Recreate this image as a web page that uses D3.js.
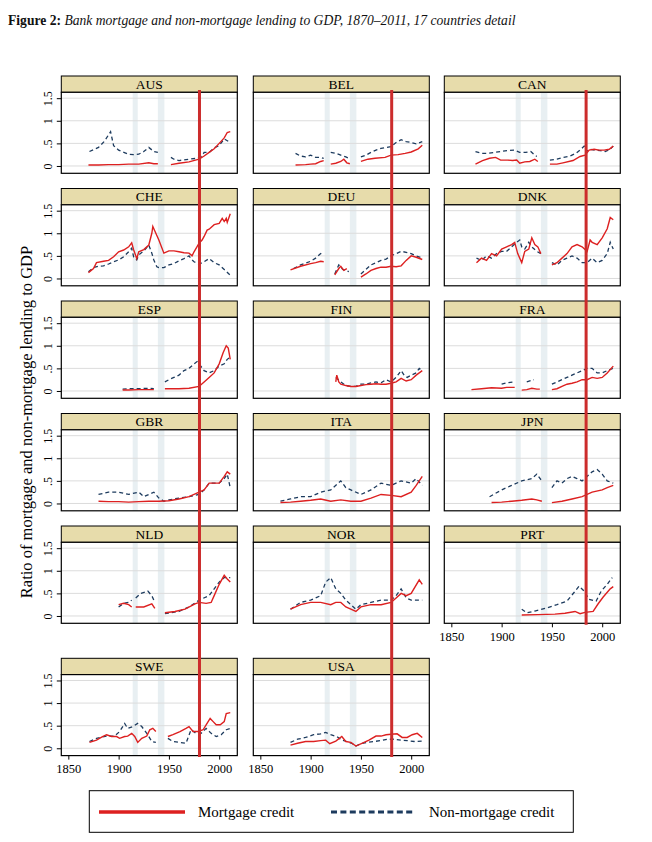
<!DOCTYPE html>
<html>
<head>
<meta charset="utf-8">
<script src="https://cdn.jsdelivr.net/npm/d3@7/dist/d3.min.js"></script>
<style>
body { margin: 0; background: #fff; }
text { font-family: "Liberation Serif", "DejaVu Serif", serif; font-weight: normal; }
</style>
</head>
<body>
<script>
// countries in panel order
const countries = ["AUS","BEL","CAN","CHE","DEU","DNK","ESP","FIN","FRA","GBR","ITA","JPN","NLD","NOR","PRT","SWE","USA"];
const yTicks = [0, 0.5, 1, 1.5];
const yTickLabels = ["0", ".5", "1", "1.5"];
const xTicks = [1850, 1900, 1950, 2000];
const warBands = [[1914, 1919], [1939, 1945.5]];
const cutoffYears = [1980.4, 1980.6, 1984]; // red vertical marker per column
const seriesNames = ["Mortgage credit", "Non-mortgage credit"];

// [year, ratio], null = gap
const mort = {
  AUS: [[1870,.02],[1880,.02],[1890,.03],[1900,.03],[1910,.04],[1920,.04],[1930,.07],[1935,.05],[1939,.05],[1940,null],
        [1952,.03],[1960,.06],[1970,.09],[1980,.15],[1985,.22],[1990,.3],[1995,.38],[2000,.5],[2005,.62],[2008,.74],[2011,.76]],
  BEL: [[1885,.02],[1895,.03],[1900,.04],[1905,.05],[1910,.1],[1913,.12],[1914,null],
        [1920,.04],[1925,.06],[1930,.1],[1933,.15],[1936,.07],[1939,.05],[1940,null],
        [1950,.1],[1957,.15],[1964,.17],[1974,.19],[1980,.24],[1987,.25],[1994,.28],[2000,.31],[2007,.38],[2011,.46]],
  CAN: [[1874,.04],[1881,.12],[1888,.17],[1894,.19],[1899,.13],[1906,.13],[1911,.12],[1915,.13],[1918,.06],[1923,.09],[1928,.1],[1933,.15],[1936,.1],[1937,null],
        [1948,.04],[1955,.04],[1961,.07],[1971,.12],[1978,.21],[1983,.24],[1987,.35],[1992,.37],[1997,.35],[2002,.35],[2007,.37],[2011,.44]],
  CHE: [[1870,.13],[1875,.22],[1878,.35],[1885,.38],[1890,.4],[1895,.48],[1900,.59],[1905,.63],[1910,.7],[1913,.79],[1915,.63],[1918,.44],[1920,.59],[1925,.64],[1930,.74],
        [1933,1.0],[1934,1.15],[1937,1.0],[1940,.85],[1945,.56],[1950,.61],[1955,.61],[1960,.59],[1965,.57],[1970,.56],[1973,.5],[1975,.59],[1980,.78],[1983,.85],
        [1985,.93],[1988,1.07],[1990,1.09],[1995,1.19],[2000,1.22],[2003,1.33],[2005,1.26],[2007,1.33],[2008,1.24],[2011,1.43]],
  DEU: [[1880,.19],[1890,.27],[1900,.33],[1905,.35],[1910,.38],[1913,.37],[1914,null],
        [1924,.08],[1928,.22],[1930,.27],[1933,.18],[1936,.22],[1937,null],
        [1950,.03],[1955,.1],[1960,.18],[1965,.22],[1970,.25],[1975,.25],[1980,.27],[1985,.26],[1990,.28],[1995,.4],[2000,.5],[2005,.47],[2011,.42]],
  DNK: [[1875,.35],[1880,.45],[1885,.4],[1890,.55],[1895,.5],[1900,.65],[1905,.7],[1910,.75],[1913,.8],[1916,.55],[1920,.35],[1923,.6],[1927,.65],[1930,.9],[1933,.75],[1936,.7],[1939,.55],[1940,null],
        [1950,.3],[1955,.35],[1960,.45],[1965,.55],[1970,.7],[1975,.75],[1980,.7],[1985,.6],[1988,.85],[1990,.8],[1995,.75],[2000,.9],[2005,1.1],[2008,1.35],[2011,1.3]],
  ESP: [[1904,.02],[1910,.02],[1920,.03],[1930,.03],[1935,.03],[1936,null],
        [1946,.05],[1960,.05],[1970,.06],[1980,.1],[1985,.2],[1990,.3],[1995,.4],[2000,.6],[2004,.85],[2007,1.0],[2009,.95],[2011,.7]],
  FIN: [[1925,.2],[1926,.35],[1928,.2],[1930,.15],[1935,.12],[1940,.1],[1945,.1],[1950,.12],[1955,.14],[1960,.15],[1965,.16],[1970,.15],[1975,.15],[1980,.17],[1985,.2],[1990,.28],[1995,.22],[2000,.25],[2005,.35],[2011,.45]],
  FRA: [[1870,.03],[1880,.05],[1890,.07],[1900,.06],[1905,.08],[1913,.08],[1914,null],
        [1920,.02],[1925,.03],[1930,.06],[1935,.04],[1938,.04],[1939,null],
        [1950,.03],[1955,.05],[1960,.1],[1965,.15],[1970,.17],[1975,.2],[1980,.25],[1985,.25],[1990,.3],[1995,.28],[2000,.3],[2005,.4],[2011,.55]],
  GBR: [[1880,.05],[1890,.04],[1900,.04],[1910,.03],[1920,.04],[1930,.05],[1940,.05],[1950,.06],[1960,.1],[1970,.15],[1980,.25],[1985,.3],[1990,.45],[1995,.45],[2000,.45],[2005,.6],[2008,.7],[2011,.65]],
  ITA: [[1870,.02],[1880,.03],[1890,.05],[1900,.07],[1910,.1],[1920,.05],[1930,.08],[1940,.05],[1950,.05],[1960,.12],[1970,.2],[1980,.18],[1990,.15],[2000,.25],[2005,.4],[2011,.6]],
  JPN: [[1890,.02],[1900,.03],[1910,.05],[1920,.07],[1930,.1],[1935,.08],[1940,.05],[1941,null],
        [1950,.02],[1960,.05],[1970,.1],[1980,.15],[1990,.25],[2000,.3],[2005,.35],[2011,.4]],
  NLD: [[1900,.25],[1905,.28],[1910,.25],[1913,.2],[1914,null],
        [1917,.2],[1925,.2],[1933,.27],[1936,.17],[1937,null],
        [1946,.07],[1956,.1],[1966,.15],[1976,.27],[1980,.3],[1987,.28],[1992,.3],[1995,.45],[2000,.7],[2005,.9],[2008,.82],[2011,.75]],
  NOR: [[1880,.15],[1890,.25],[1900,.3],[1910,.3],[1920,.25],[1925,.3],[1930,.3],[1935,.2],[1940,.15],[1945,.1],[1950,.2],[1960,.25],[1970,.25],[1980,.3],[1985,.4],[1990,.5],[1995,.45],[2000,.5],[2008,.8],[2011,.7]],
  PRT: [[1920,.02],[1936,.03],[1953,.04],[1963,.06],[1973,.1],[1978,.05],[1983,.08],[1991,.1],[1996,.27],[2001,.42],[2008,.6],[2011,.65]],
  SWE: [[1871,.13],[1878,.18],[1884,.26],[1888,.3],[1893,.26],[1898,.26],[1901,.22],[1906,.26],[1909,.27],[1913,.33],[1916,.26],[1919,.13],[1923,.22],[1928,.27],[1931,.41],[1934,.44],[1937,.37],[1938,null],
        [1949,.26],[1954,.3],[1961,.37],[1967,.44],[1970,.48],[1974,.37],[1979,.37],[1984,.41],[1987,.52],[1991,.66],[1994,.59],[1997,.52],[2001,.52],[2005,.59],[2007,.77],[2011,.79]],
  USA: [[1880,.07],[1887,.11],[1895,.15],[1903,.15],[1910,.17],[1915,.18],[1919,.1],[1925,.16],[1931,.26],[1935,.15],[1940,.13],[1945,.05],[1951,.11],[1958,.18],[1965,.27],[1970,.27],[1975,.3],[1980,.31],[1986,.32],[1991,.24],[1996,.24],[2001,.3],[2006,.33],[2011,.24]]
};

const nonMort = {
  AUS: [[1871,.32],[1880,.41],[1886,.55],[1892,.76],[1895,.45],[1900,.35],[1910,.26],[1915,.25],[1920,.26],[1925,.32],[1930,.41],[1935,.32],[1939,.3],[1940,null],
        [1952,.19],[1955,.15],[1960,.12],[1970,.15],[1978,.17],[1983,.22],[1985,.3],[1990,.3],[1995,.4],[2000,.45],[2005,.6],[2011,.52]],
  BEL: [[1885,.28],[1890,.22],[1895,.2],[1900,.24],[1905,.19],[1910,.19],[1913,.17],[1914,null],
        [1920,.3],[1925,.28],[1930,.24],[1935,.2],[1938,.17],[1939,null],
        [1950,.2],[1955,.24],[1960,.3],[1965,.35],[1970,.39],[1975,.41],[1980,.43],[1985,.52],[1990,.58],[1995,.54],[2000,.52],[2005,.49],[2011,.54]],
  CAN: [[1874,.32],[1880,.28],[1886,.28],[1893,.3],[1899,.32],[1906,.34],[1913,.35],[1918,.3],[1924,.3],[1929,.32],[1933,.24],[1935,.21],[1936,null],
        [1948,.13],[1955,.15],[1961,.19],[1968,.22],[1974,.28],[1979,.37],[1982,.44],[1984,.32],[1988,.37],[1993,.35],[1998,.34],[2003,.32],[2008,.37],[2011,.44]],
  CHE: [[1870,.15],[1875,.24],[1880,.27],[1885,.28],[1890,.32],[1895,.37],[1900,.41],[1905,.48],[1910,.59],[1913,.67],[1915,.47],[1918,.41],[1920,.52],[1925,.61],[1930,.74],
        [1933,.56],[1935,.41],[1938,.26],[1940,.24],[1945,.24],[1950,.3],[1955,.33],[1960,.39],[1965,.44],[1970,.5],[1973,.41],[1975,.37],[1980,.32],[1985,.37],
        [1990,.44],[1995,.35],[2000,.3],[2005,.2],[2011,.07]],
  DEU: [[1883,.22],[1890,.3],[1900,.38],[1905,.45],[1910,.55],[1913,.58],[1914,null],
        [1924,.1],[1928,.3],[1932,.2],[1938,.15],[1939,null],
        [1950,.1],[1955,.2],[1960,.3],[1965,.35],[1970,.4],[1975,.43],[1980,.5],[1985,.55],[1990,.6],[1995,.58],[2000,.55],[2005,.5],[2011,.45]],
  DNK: [[1875,.45],[1880,.4],[1885,.5],[1890,.45],[1895,.55],[1900,.6],[1905,.6],[1910,.7],[1915,.8],[1918,.85],[1920,.7],[1923,.65],[1927,.8],[1930,.7],[1935,.6],[1939,.55],[1940,null],
        [1950,.35],[1955,.3],[1960,.4],[1965,.45],[1970,.5],[1975,.45],[1980,.35],[1985,.35],[1990,.45],[1995,.35],[2000,.4],[2005,.55],[2008,.8],[2011,.65]],
  ESP: [[1904,.04],[1910,.05],[1920,.05],[1930,.06],[1935,.05],[1936,null],
        [1946,.2],[1950,.25],[1955,.3],[1960,.35],[1965,.45],[1970,.5],[1975,.6],[1978,.65],[1980,.6],[1985,.45],[1990,.4],[1995,.45],[2000,.55],[2005,.6],[2008,.7],[2011,.75]],
  FIN: [[1925,.3],[1930,.2],[1935,.12],[1940,.1],[1945,.1],[1950,.15],[1955,.15],[1960,.18],[1965,.2],[1970,.18],[1975,.25],[1980,.2],[1985,.3],[1990,.45],[1993,.35],[1996,.3],[2000,.35],[2005,.4],[2008,.5],[2011,.45]],
  FRA: [[1900,.15],[1905,.18],[1913,.2],[1914,null],
        [1925,.2],[1932,.25],[1933,null],
        [1950,.15],[1955,.2],[1960,.25],[1965,.3],[1970,.35],[1975,.4],[1980,.45],[1985,.5],[1990,.5],[1995,.4],[2000,.4],[2005,.45],[2011,.5]],
  GBR: [[1880,.2],[1890,.25],[1900,.25],[1910,.2],[1920,.25],[1925,.15],[1935,.25],[1940,.12],[1945,.05],[1950,.08],[1960,.12],[1970,.15],[1980,.2],[1985,.3],[1990,.45],[2000,.45],[2005,.55],[2008,.65],[2011,.35]],
  ITA: [[1870,.05],[1880,.1],[1890,.15],[1900,.15],[1910,.25],[1920,.3],[1930,.5],[1935,.35],[1940,.3],[1950,.2],[1960,.3],[1970,.45],[1980,.4],[1990,.5],[2000,.45],[2005,.55],[2011,.4]],
  JPN: [[1888,.15],[1900,.3],[1910,.4],[1920,.5],[1930,.55],[1935,.65],[1940,.5],[1941,null],
        [1950,.35],[1955,.5],[1960,.45],[1965,.55],[1970,.6],[1975,.55],[1980,.5],[1990,.7],[1995,.75],[2000,.65],[2005,.5],[2011,.45]],
  NLD: [[1900,.2],[1905,.28],[1910,.3],[1913,.35],[1914,null],
        [1917,.4],[1922,.5],[1929,.55],[1933,.45],[1936,.3],[1937,null],
        [1946,.05],[1960,.1],[1970,.2],[1980,.35],[1990,.45],[2000,.75],[2005,.85],[2011,.85]],
  NOR: [[1880,.15],[1890,.3],[1900,.35],[1910,.45],[1915,.75],[1920,.85],[1925,.6],[1930,.5],[1935,.35],[1940,.25],[1945,.15],[1950,.25],[1960,.3],[1970,.35],[1980,.35],[1985,.45],[1990,.6],[1995,.4],[2000,.35],[2011,.35]],
  PRT: [[1920,.15],[1925,.07],[1933,.11],[1945,.18],[1955,.25],[1965,.33],[1972,.52],[1977,.66],[1982,.55],[1987,.37],[1994,.33],[1999,.55],[2005,.7],[2010,.85]],
  SWE: [[1871,.15],[1878,.22],[1888,.27],[1896,.27],[1901,.37],[1906,.55],[1909,.44],[1914,.48],[1919,.55],[1923,.48],[1928,.33],[1933,.15],[1937,.13],[1938,null],
        [1949,.22],[1954,.15],[1961,.13],[1967,.11],[1972,.41],[1977,.33],[1982,.33],[1987,.44],[1992,.33],[1997,.26],[2002,.3],[2007,.41],[2011,.44]],
  USA: [[1880,.13],[1887,.2],[1895,.24],[1903,.3],[1910,.32],[1915,.35],[1920,.3],[1926,.26],[1931,.18],[1936,.15],[1941,.11],[1945,.05],[1950,.1],[1956,.13],[1963,.15],[1970,.17],[1976,.2],[1983,.2],[1990,.18],[1996,.17],[2003,.15],[2011,.16]]
};

const W = 652, H = 842;
const colX = [61.3, 253.3, 444.3];
const rowY = [76, 188.5, 301, 413.5, 526, 658.3];
const panelW = 176, stripH = 16.3, plotH = 81;
const mortColor = "#dd2020", nonColor = "#1d3b5e", cutColor = "#cc2c2c";

const svg = d3.select("body").append("svg").attr("width", W).attr("height", H);

const x = d3.scaleLinear().domain([1843, 2018]).range([0, panelW]);
const y = d3.scaleLinear().domain([-0.162, 1.63]).range([plotH, 0]);

const line = d3.line()
  .defined(d => d[1] !== null)
  .x(d => x(d[0]))
  .y(d => y(d[1]));

// title
const title = svg.append("text").attr("x", 8).attr("y", 25).style("font-size", "13.6px").attr("fill", "#111");
title.append("tspan").style("font-weight", "bold").text("Figure 2: ");
title.append("tspan").style("font-style", "italic").text("Bank mortgage and non-mortgage lending to GDP, 1870–2011, 17 countries detail");

// y title
svg.append("text")
  .attr("transform", "translate(32,422) rotate(-90)")
  .attr("text-anchor", "middle")
  .style("font-size", "16.5px")
  .text("Ratio of mortgage and non-mortgage lending to GDP");

countries.forEach(function(c, i) {
  const col = i % 3, row = Math.floor(i / 3);
  const g = svg.append("g").attr("transform", "translate(" + colX[col] + "," + rowY[row] + ")");

  // strip
  g.append("rect").attr("width", panelW).attr("height", stripH)
    .attr("fill", "#e7dcab").attr("stroke", "#000").attr("stroke-width", 1);
  g.append("text").attr("x", panelW / 2).attr("y", stripH / 2 + 4.8)
    .attr("text-anchor", "middle").style("font-size", "13.5px").text(c);

  const p = g.append("g").attr("transform", "translate(0," + stripH + ")");
  p.append("rect").attr("width", panelW).attr("height", plotH).attr("fill", "#fff");

  // war shading
  p.selectAll("rect.band").data(warBands).enter().append("rect")
    .attr("class", "band")
    .attr("x", d => x(d[0])).attr("width", d => x(d[1]) - x(d[0]))
    .attr("y", 0).attr("height", plotH)
    .attr("fill", "#e8eff2");

  // grid
  p.selectAll("line.grid").data(yTicks).enter().append("line")
    .attr("class", "grid")
    .attr("x1", 0).attr("x2", panelW)
    .attr("y1", d => y(d)).attr("y2", d => y(d))
    .attr("stroke", "#dcdcdc").attr("stroke-width", 1);

  p.append("path").datum(nonMort[c]).attr("d", line)
    .attr("fill", "none").attr("stroke", nonColor).attr("stroke-width", 1.3)
    .attr("stroke-dasharray", "4,3");
  p.append("path").datum(mort[c]).attr("d", line)
    .attr("fill", "none").attr("stroke", mortColor).attr("stroke-width", 1.4);

  p.append("rect").attr("width", panelW).attr("height", plotH)
    .attr("fill", "none").attr("stroke", "#000").attr("stroke-width", 1.2);

  if (col === 0) {
    const ya = p.append("g").call(d3.axisLeft(y).tickValues(yTicks).tickSize(4.5).tickFormat((d, k) => yTickLabels[k]));
    ya.select(".domain").remove();
    ya.selectAll("line").attr("stroke", "#000");
    ya.selectAll("text")
      .attr("transform", "rotate(-90)")
      .attr("x", 0).attr("y", -9)
      .attr("dy", 0)
      .attr("text-anchor", "middle")
      .style("font-family", "'Liberation Serif', serif")
      .style("font-size", "12px");
  }
  const lastRow = (row === 5) || (row === 4 && col === 2);
  if (lastRow) {
    const xa = p.append("g").attr("transform", "translate(0," + plotH + ")")
      .call(d3.axisBottom(x).tickValues(xTicks).tickSize(4).tickFormat(d3.format("d")));
    xa.select(".domain").remove();
    xa.selectAll("line").attr("stroke", "#000");
    xa.selectAll("text")
      .style("font-family", "'Liberation Serif', serif")
      .style("font-size", "12.5px").attr("dy", "0.85em");
  }
});

// red vertical cut-off lines per column
const colBottoms = [rowY[5] + stripH + plotH + 1.5, rowY[5] + stripH + plotH + 1.5, rowY[4] + stripH + plotH + 1.5];
cutoffYears.forEach(function(yr, col) {
  svg.append("line")
    .attr("x1", colX[col] + x(yr)).attr("x2", colX[col] + x(yr))
    .attr("y1", 90).attr("y2", colBottoms[col])
    .attr("stroke", cutColor).attr("stroke-width", 3);
});

// legend
const lg = svg.append("g");
lg.append("rect").attr("x", 89.3).attr("y", 790.7).attr("width", 484).attr("height", 41.6)
  .attr("fill", "#fff").attr("stroke", "#000").attr("stroke-width", 1);
lg.append("line").attr("x1", 99).attr("x2", 185).attr("y1", 812).attr("y2", 812)
  .attr("stroke", mortColor).attr("stroke-width", 3.5);
lg.append("text").attr("x", 198).attr("y", 817).style("font-size", "15px").text(seriesNames[0]);
lg.append("line").attr("x1", 331).attr("x2", 414).attr("y1", 812).attr("y2", 812)
  .attr("stroke", nonColor).attr("stroke-width", 3).attr("stroke-dasharray", "6,3.4");
lg.append("text").attr("x", 429).attr("y", 817).style("font-size", "15px").text(seriesNames[1]);
</script>
</body>
</html>
